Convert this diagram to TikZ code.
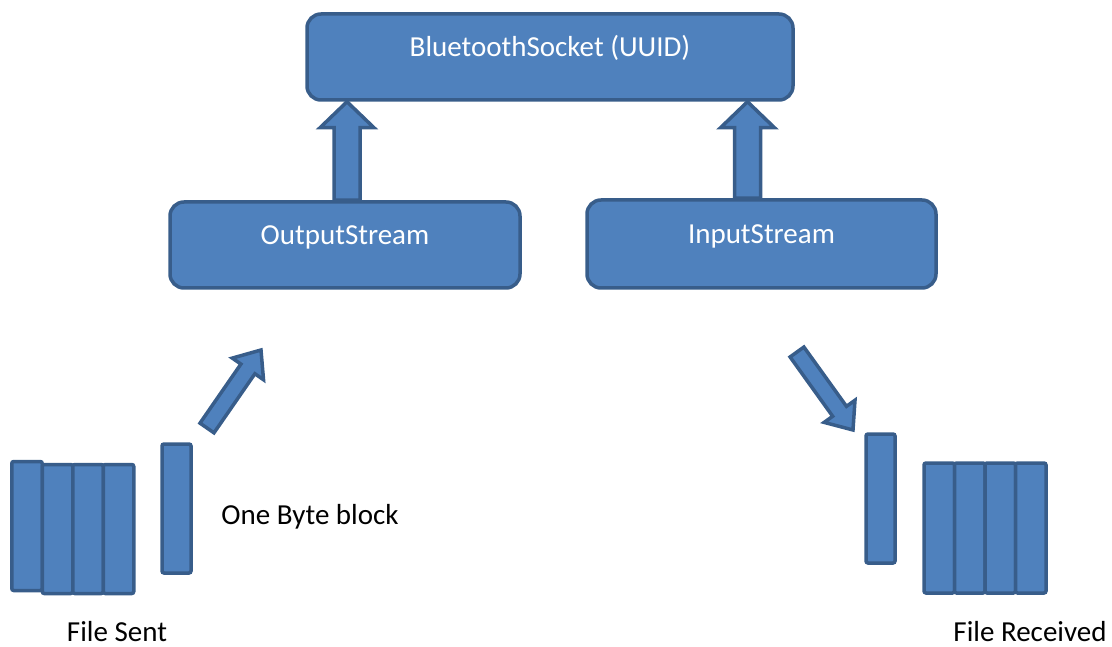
\documentclass[tikz,border=0pt]{standalone}
\usepackage{fontspec}
\setmainfont{Carlito}
\usetikzlibrary{calc}

\definecolor{boxfill}{HTML}{4F81BD}
\definecolor{boxline}{HTML}{385D8A}

% block arrow from #1 to #2: shaft half width #3, head half width #4, head length #5
\newcommand{\blockarrow}[5]{%
  \draw[arrowbody] let \p1=(#1), \p2=(#2),
      \n1={atan2(\y2-\y1,\x2-\x1)}, \n2={veclen(\x2-\x1,\y2-\y1)} in
    [shift={(\p1)}, rotate=\n1]
    (0,-#3) -- (\n2-#5,-#3) -- (\n2-#5,-#4) -- (\n2,0)
    -- (\n2-#5,#4) -- (\n2-#5,#3) -- (0,#3) -- cycle;}

\begin{document}
\begin{tikzpicture}[x=1pt, y=-1pt,
    box/.style={draw=boxline, fill=boxfill, line width=3.5pt, rounded corners=14pt,
      text=white, inner sep=0pt, text height=20pt, text depth=20pt,
      font=\fontsize{29}{34}\selectfont},
    bar/.style={draw=boxline, fill=boxfill, line width=3.5pt, rounded corners=2pt,
      inner sep=0pt, minimum width=30.5pt, minimum height=129pt},
    arrowbody/.style={draw=boxline, fill=boxfill, line width=3.5pt, line join=miter},
    caption/.style={anchor=base, inner sep=0pt, font=\fontsize{29}{34}\selectfont}]
  \useasboundingbox (0,0) rectangle (1112,647);

  % Socket and the two streams
  \node[box, minimum width=486pt, minimum height=86pt] (socket) at (550,57) {BluetoothSocket (UUID)};
  \node[box, minimum width=350pt, minimum height=86pt] (out) at (345,245) {OutputStream};
  \node[box, minimum width=349pt, minimum height=88pt] (in) at (761.5,244) {InputStream};

  % Streams feed the socket
  \coordinate (outtop) at ($(out.north)+(2,0)$);
  \coordinate (intop) at ($(in.north)+(-14,0)$);
  \blockarrow{outtop}{outtop |- socket.south}{13}{27}{26}
  \blockarrow{intop}{intop |- socket.south}{13}{27}{26}

  % File sent, byte by byte
  \node[bar] (s1) at (27,526) {};
  \foreach \x [count=\i from 2] in {57.5,88,118.5}
    \node[bar] (s\i) at (\x,529) {};
  \node[bar, minimum width=29pt] (sbyte) at (176.5,508.5) {};
  \coordinate (sendtail) at (207,428);
  \coordinate (sendtip) at (261,350);
  \blockarrow{sendtail}{sendtip}{8.5}{19}{23}

  % File received, byte by byte
  \node[bar, minimum width=29pt] (rbyte) at (880.5,498.5) {};
  \foreach \x [count=\i] in {939.25,969.75,1000.25,1030.75}
    \node[bar, minimum height=130pt] (r\i) at (\x,528) {};
  \coordinate (recvtail) at (797,352);
  \coordinate (recvtip) at (853,430);
  \blockarrow{recvtail}{recvtip}{8.5}{19}{23}

  % Labels
  \node[caption] (bytelabel) at (310,524) {One Byte block};
  \node[caption] (sentlabel) at (117,641) {File Sent};
  \node[caption] (recvlabel) at (1030,641) {File Received};
\end{tikzpicture}
\end{document}
